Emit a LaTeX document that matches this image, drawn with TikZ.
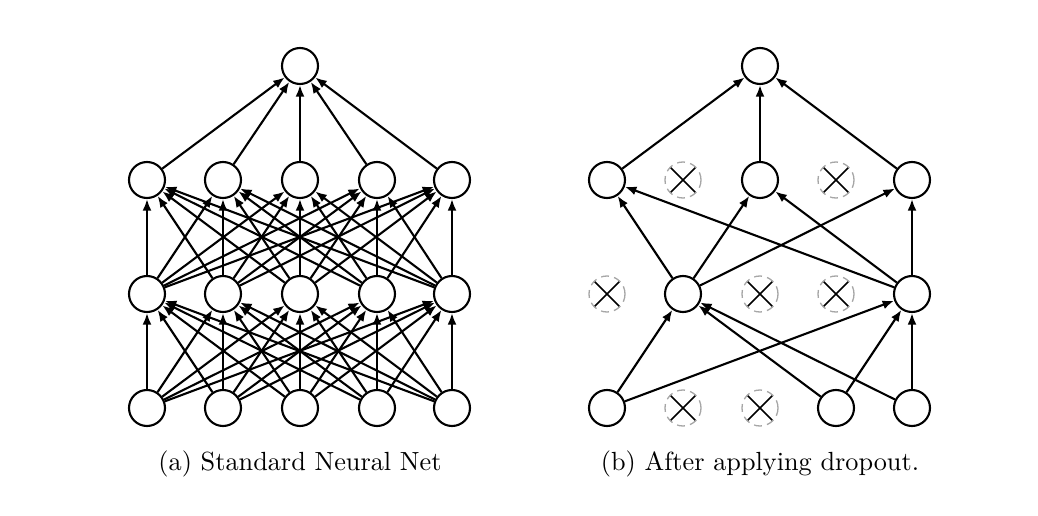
\documentclass[tikz,border=0pt]{standalone}
\usetikzlibrary{arrows.meta}
\begin{document}
\begin{tikzpicture}[x=0.381pt,y=-0.381pt,
  neuron/.style={circle,draw=black,line width=0.8pt,minimum size=36*0.381pt,inner sep=0pt,fill=white},
  dropped/.style={circle,draw=gray!70,densely dashed,line width=0.5pt,minimum size=36*0.381pt,inner sep=0pt,
    path picture={\draw[black,solid,line width=0.65pt] (path picture bounding box.south west)++(2.1pt,2.1pt) -- ++(9.5pt,9.5pt);
                  \draw[black,solid,line width=0.65pt] (path picture bounding box.north west)++(2.1pt,-2.1pt) -- ++(9.5pt,-9.5pt);}},
  conn/.style={line width=0.8pt,-{Latex[length=4.4pt,width=3.4pt]}},
  caption/.style={anchor=base,font=\fontsize{10}{12}\selectfont,inner sep=0pt}]
\useasboundingbox (0,0) rectangle (1038,516);
% ---------- (a) standard net ----------
\foreach \i/\x in {1/147,2/223,3/300,4/377,5/452}{
  \node[neuron] (ab\i) at (\x,408) {};
  \node[neuron] (am\i) at (\x,294) {};
  \node[neuron] (au\i) at (\x,180) {};
}
\node[neuron] (atop) at (300,66) {};
\foreach \i in {1,...,5}{
  \foreach \j in {1,...,5}{
    \draw[conn] (ab\i) -- (am\j);
    \draw[conn] (am\i) -- (au\j);
  }
  \draw[conn] (au\i) -- (atop);
}
\node[caption] (capa) at (300,470) {(a) Standard Neural Net};
% ---------- (b) dropout ----------
\node[neuron] (bb1) at (607,408) {};
\node[dropped] (bb2) at (683,408) {};
\node[dropped] (bb3) at (760,408) {};
\node[neuron] (bb4) at (836,408) {};
\node[neuron] (bb5) at (912,408) {};
\node[dropped] (bm1) at (607,294) {};
\node[neuron] (bm2) at (683,294) {};
\node[dropped] (bm3) at (760,294) {};
\node[dropped] (bm4) at (836,294) {};
\node[neuron] (bm5) at (912,294) {};
\node[neuron] (bu1) at (607,180) {};
\node[dropped] (bu2) at (683,180) {};
\node[neuron] (bu3) at (760,180) {};
\node[dropped] (bu4) at (836,180) {};
\node[neuron] (bu5) at (912,180) {};
\node[neuron] (btop) at (760,66) {};
\foreach \i in {1,4,5}{
  \foreach \j in {2,5}{
    \draw[conn] (bb\i) -- (bm\j);
  }
}
\foreach \i in {2,5}{
  \foreach \j in {1,3,5}{
    \draw[conn] (bm\i) -- (bu\j);
  }
}
\foreach \i in {1,3,5}{
  \draw[conn] (bu\i) -- (btop);
}
\node[caption] (capb) at (760,470) {(b) After applying dropout.};
\end{tikzpicture}
\end{document}
